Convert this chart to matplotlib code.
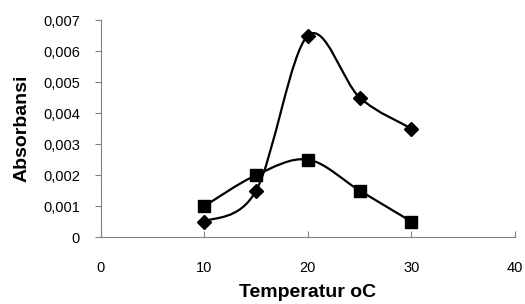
import matplotlib
matplotlib.use("Agg")
import matplotlib.pyplot as plt
from matplotlib.path import Path
from matplotlib.patches import PathPatch
from matplotlib.ticker import FuncFormatter

plt.rcParams['font.family'] = ['Liberation Sans', 'DejaVu Sans']

temps = [10, 15, 20, 25, 30]
absorb_diamond = [0.0005, 0.0015, 0.0065, 0.0045, 0.0035]
absorb_square = [0.0010, 0.0020, 0.0025, 0.0015, 0.0005]


def smooth_path(xs, ys, t=1/6):
    # excel-like smoothed line: cubic bezier with catmull-rom control points
    verts = [(xs[0], ys[0])]
    codes = [Path.MOVETO]
    n = len(xs)
    for i in range(n - 1):
        x0, y0 = (xs[i - 1], ys[i - 1]) if i > 0 else (xs[i], ys[i])
        x1, y1 = xs[i], ys[i]
        x2, y2 = xs[i + 1], ys[i + 1]
        x3, y3 = (xs[i + 2], ys[i + 2]) if i + 2 < n else (x2, y2)
        c1 = (x1 + (x2 - x0) * t, y1 + (y2 - y0) * t)
        c2 = (x2 - (x3 - x1) * t, y2 - (y3 - y1) * t)
        verts += [c1, c2, (x2, y2)]
        codes += [Path.CURVE4] * 3
    return Path(verts, codes)


fig = plt.figure(figsize=(5.25, 3.04), dpi=100)
ax = fig.add_axes([0.192, 0.22, 0.789, 0.714])

for ys, m, ms in [(absorb_diamond, 'D', 7.5), (absorb_square, 's', 9)]:
    ax.add_patch(PathPatch(smooth_path(temps, ys), fill=False, lw=1.6, color='black'))
    ax.plot(temps, ys, linestyle='none', marker=m, ms=ms, color='black')

ax.set_xlim(0, 40)
ax.set_ylim(0, 0.007)
ax.set_xticks([0, 10, 20, 30, 40])
ax.set_yticks([i * 0.001 for i in range(8)])
ax.yaxis.set_major_formatter(FuncFormatter(lambda v, p: '0' if v == 0 else f'{v:.3f}'.replace('.', ',')))

for s in ['top', 'right']:
    ax.spines[s].set_visible(False)
for s in ['left', 'bottom']:
    ax.spines[s].set_color('#808080')
ax.tick_params(axis='x', direction='in', length=4, color='#808080', labelsize=10.5, pad=17)
ax.tick_params(axis='y', direction='out', length=4, color='#808080', labelsize=10.5, pad=11)

ax.set_xlabel('Temperatur oC', fontsize=14, fontweight='bold', labelpad=7)
ax.set_ylabel('Absorbansi', fontsize=14, fontweight='bold', labelpad=9)

fig.savefig('out.png', dpi=100)
